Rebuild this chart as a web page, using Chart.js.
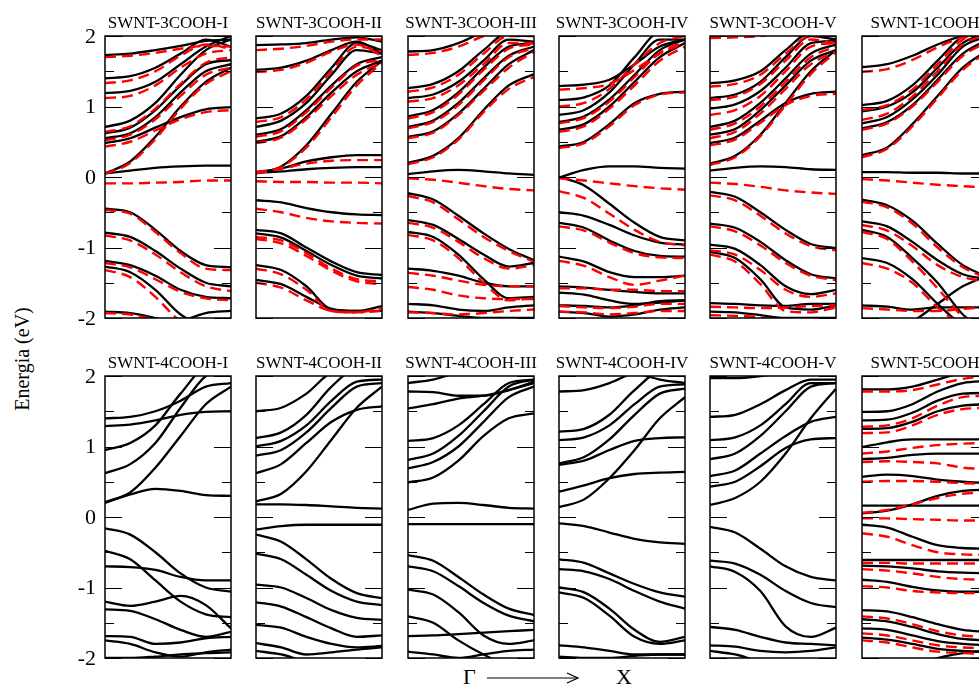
<!DOCTYPE html>
<html>
<head>
<meta charset="utf-8">
<script src="https://cdn.jsdelivr.net/npm/chart.js@4.4.1/dist/chart.umd.min.js"></script>
<style>
  html, body { margin: 0; padding: 0; background: #fff; width: 979px; height: 688px; overflow: hidden; }
  body { position: relative; font-family: "Liberation Serif", "DejaVu Serif", serif; }
  canvas { position: absolute; }
  #ylabel { position: absolute; left: 22px; top: 359px; font-size: 20px; line-height: 22px; white-space: nowrap;
            transform: translate(-50%, -50%) rotate(-90deg); }
  .klab { position: absolute; top: 665px; font-size: 22px; line-height: 24px; white-space: nowrap; }
  #karrow { position: absolute; left: 487px; top: 672px; }
</style>
</head>
<body>
<div id="ylabel">Energia (eV)</div>
<div class="klab" style="left:463px">Γ</div>
<svg id="karrow" width="93" height="12"><line x1="0" y1="6" x2="91" y2="6" stroke="#000" stroke-width="1.2"/><polyline points="80,1 91,6 80,11" fill="none" stroke="#000" stroke-width="1.2"/></svg>
<div class="klab" style="left:616px">X</div>
<div id="panels"></div>
<script>
// k path Gamma -> X, sampled at these points
const kPoints = [0, 0.2, 0.4, 0.6, 0.8, 1];
const energyTicks = [-2, -1, 0, 1, 2];
const minorTicks = [-1.5, -0.5, 0.5, 1.5];
const titles = ["SWNT-3COOH-I", "SWNT-3COOH-II", "SWNT-3COOH-III", "SWNT-3COOH-IV", "SWNT-3COOH-V", "SWNT-1COOH",
                "SWNT-4COOH-I", "SWNT-4COOH-II", "SWNT-4COOH-III", "SWNT-4COOH-IV", "SWNT-4COOH-V", "SWNT-5COOH"];

// band energies (eV) at kPoints, solid black and dashed red
const black3I = [
  [0.05, 0.09, 0.13, 0.15, 0.16, 0.16], [0.05, 0.22, 0.57, 1.0, 1.35, 1.55], [0.48, 0.55, 0.7, 0.85, 0.96, 0.99],
  [0.55, 0.62, 0.85, 1.2, 1.5, 1.6], [0.62, 0.7, 0.95, 1.3, 1.6, 1.66], [0.71, 0.8, 1.05, 1.45, 1.8, 1.95],
  [1.19, 1.22, 1.35, 1.6, 1.85, 2.0], [1.40, 1.43, 1.55, 1.75, 1.95, 1.85], [1.73, 1.75, 1.8, 1.86, 1.93, 1.95],
  [-0.45, -0.5, -0.75, -1.05, -1.25, -1.28], [-0.79, -0.85, -1.05, -1.3, -1.5, -1.55], [-1.19, -1.25, -1.4, -1.6, -1.7, -1.72],
  [-1.27, -1.35, -1.6, -1.95, -2.1, -2.1], [-1.91, -1.93, -2.0, -2.1, -2.1, -2.1], [-2.2, -2.2, -2.15, -2.05, -1.93, -1.9]
];
const red3I = [
  [-0.09, -0.09, -0.08, -0.07, -0.05, -0.05], [0.04, 0.2, 0.54, 0.97, 1.32, 1.5], [0.43, 0.5, 0.66, 0.82, 0.92, 0.95],
  [0.52, 0.6, 0.82, 1.15, 1.45, 1.55], [0.64, 0.72, 0.97, 1.32, 1.62, 1.7], [1.12, 1.15, 1.3, 1.55, 1.75, 1.8],
  [1.33, 1.37, 1.5, 1.72, 1.88, 1.82], [1.70, 1.72, 1.76, 1.82, 1.86, 1.85],
  [-0.47, -0.52, -0.78, -1.08, -1.3, -1.32], [-0.83, -0.9, -1.1, -1.35, -1.55, -1.62], [-1.22, -1.28, -1.45, -1.63, -1.72, -1.75],
  [-1.32, -1.42, -1.7, -2.05, -2.2, -2.2], [-1.93, -1.95, -2.02, -2.1, -2.1, -2.1]
];
const black3II = [
  [0.07, 0.12, 0.22, 0.28, 0.31, 0.31], [0.06, 0.08, 0.11, 0.13, 0.14, 0.14], [0.05, 0.15, 0.45, 0.9, 1.35, 1.65],
  [0.50, 0.58, 0.85, 1.2, 1.5, 1.65], [0.6, 0.68, 0.95, 1.3, 1.6, 1.7], [0.71, 0.8, 1.05, 1.45, 1.8, 1.75],
  [0.83, 0.9, 1.15, 1.55, 1.9, 1.8], [1.52, 1.55, 1.65, 1.8, 1.92, 1.75], [1.87, 1.88, 1.9, 1.95, 1.98, 1.92],
  [-0.33, -0.36, -0.44, -0.5, -0.53, -0.54], [-0.75, -0.8, -1.0, -1.2, -1.35, -1.39], [-0.8, -0.86, -1.05, -1.25, -1.4, -1.44],
  [-1.25, -1.32, -1.55, -1.88, -1.9, -1.83], [-1.46, -1.52, -1.7, -1.87, -1.9, -1.9]
];
const red3II = [
  [-0.06, -0.07, -0.07, -0.08, -0.08, -0.09], [0.07, 0.12, 0.19, 0.23, 0.24, 0.24], [0.05, 0.14, 0.42, 0.85, 1.3, 1.62],
  [0.48, 0.56, 0.82, 1.15, 1.45, 1.62], [0.57, 0.65, 0.92, 1.27, 1.58, 1.66], [0.78, 0.85, 1.1, 1.5, 1.85, 1.78],
  [1.49, 1.52, 1.62, 1.78, 1.88, 1.72], [1.8, 1.82, 1.86, 1.92, 1.95, 1.95],
  [-0.45, -0.5, -0.58, -0.63, -0.65, -0.66], [-0.85, -0.9, -1.08, -1.3, -1.45, -1.48], [-0.88, -0.94, -1.12, -1.33, -1.48, -1.52],
  [-1.3, -1.38, -1.6, -1.9, -1.92, -1.86], [-1.5, -1.57, -1.75, -1.9, -1.92, -1.9]
];
const black3III = [
  [0.04, 0.08, 0.1, 0.08, 0.05, 0.03], [0.2, 0.3, 0.55, 0.95, 1.3, 1.46], [0.57, 0.65, 0.9, 1.25, 1.6, 1.8],
  [0.71, 0.8, 1.05, 1.4, 1.72, 1.85], [0.86, 0.95, 1.2, 1.55, 1.85, 1.9], [1.12, 1.17, 1.35, 1.65, 1.95, 1.92],
  [1.26, 1.32, 1.5, 1.8, 2.05, 2.05], [1.78, 1.8, 1.9, 2.05, 2.1, 2.1],
  [-0.23, -0.32, -0.55, -0.8, -1.02, -1.18], [-0.61, -0.68, -0.88, -1.1, -1.27, -1.22], [-0.78, -0.85, -1.1, -1.45, -1.72, -1.7],
  [-1.3, -1.33, -1.4, -1.5, -1.55, -1.55], [-1.8, -1.82, -1.88, -1.9, -1.85, -1.82], [-1.91, -1.93, -1.97, -2.0, -2.0, -2.0]
];
const red3III = [
  [-0.02, -0.04, -0.08, -0.13, -0.17, -0.19], [0.18, 0.28, 0.53, 0.92, 1.25, 1.42], [0.55, 0.63, 0.88, 1.22, 1.55, 1.78],
  [0.69, 0.78, 1.02, 1.37, 1.7, 1.83], [0.83, 0.92, 1.17, 1.52, 1.82, 1.88], [1.07, 1.12, 1.3, 1.6, 1.9, 1.9],
  [1.21, 1.27, 1.45, 1.75, 2.0, 2.0], [1.73, 1.76, 1.85, 2.0, 2.1, 2.1],
  [-0.27, -0.36, -0.6, -0.85, -1.05, -1.2], [-0.65, -0.72, -0.92, -1.15, -1.3, -1.25], [-0.82, -0.9, -1.15, -1.5, -1.75, -1.72],
  [-1.36, -1.4, -1.47, -1.53, -1.55, -1.55], [-1.56, -1.6, -1.68, -1.72, -1.73, -1.73], [-1.92, -1.93, -1.95, -1.93, -1.9, -1.88]
];
const black3IV = [
  [-0.01, 0.1, 0.15, 0.15, 0.13, 0.12], [0.43, 0.5, 0.75, 1.05, 1.18, 1.21], [0.67, 0.75, 1.0, 1.35, 1.7, 1.9],
  [0.78, 0.86, 1.1, 1.45, 1.8, 1.95], [0.88, 0.95, 1.2, 1.6, 1.95, 1.95], [1.09, 1.13, 1.3, 1.7, 2.05, 2.05],
  [1.29, 1.31, 1.38, 1.6, 1.85, 1.95],
  [0, -0.12, -0.38, -0.65, -0.85, -0.9], [-0.5, -0.55, -0.68, -0.83, -0.93, -0.96], [-0.65, -0.72, -0.9, -1.05, -1.12, -1.13],
  [-1.13, -1.2, -1.35, -1.42, -1.42, -1.4], [-1.55, -1.57, -1.6, -1.63, -1.65, -1.65], [-1.64, -1.67, -1.75, -1.8, -1.78, -1.75],
  [-1.82, -1.83, -1.85, -1.82, -1.76, -1.75], [-1.91, -1.93, -1.98, -1.95, -1.88, -1.85]
];
const red3IV = [
  [-0.02, -0.05, -0.09, -0.13, -0.16, -0.18], [0.41, 0.48, 0.72, 1.02, 1.17, 1.2], [0.64, 0.72, 0.97, 1.3, 1.65, 1.85],
  [0.76, 0.84, 1.07, 1.42, 1.76, 1.92], [1.0, 1.05, 1.25, 1.6, 1.9, 2.0], [1.24, 1.26, 1.32, 1.52, 1.75, 1.9],
  [-0.2, -0.3, -0.52, -0.75, -0.92, -0.97], [-0.7, -0.76, -0.93, -1.08, -1.14, -1.15], [-1.19, -1.26, -1.42, -1.53, -1.47, -1.4],
  [-1.58, -1.58, -1.6, -1.6, -1.62, -1.62], [-1.83, -1.85, -1.86, -1.84, -1.8, -1.8], [-1.91, -1.92, -1.95, -1.93, -1.9, -1.9]
];
const black3V = [
  [0.09, 0.13, 0.15, 0.14, 0.11, 0.1], [0.19, 0.3, 0.6, 1.05, 1.5, 1.8], [0.48, 0.56, 0.8, 1.05, 1.18, 1.21],
  [0.6, 0.68, 0.95, 1.3, 1.65, 1.8], [0.71, 0.8, 1.05, 1.4, 1.75, 1.88], [0.97, 1.03, 1.22, 1.55, 1.9, 1.93],
  [1.12, 1.17, 1.35, 1.7, 2.0, 1.95], [1.33, 1.37, 1.5, 1.8, 2.05, 2.05],
  [-0.21, -0.28, -0.5, -0.75, -0.95, -1.01], [-0.66, -0.72, -0.92, -1.18, -1.38, -1.44], [-0.96, -1.02, -1.25, -1.55, -1.66, -1.6],
  [-1.06, -1.15, -1.45, -1.85, -1.88, -1.82], [-1.79, -1.8, -1.82, -1.83, -1.8, -1.8], [-1.91, -1.92, -1.96, -2.0, -2.0, -2.0]
];
const red3V = [
  [-0.08, -0.1, -0.14, -0.19, -0.22, -0.24], [0.17, 0.28, 0.58, 1.02, 1.46, 1.77], [0.45, 0.53, 0.77, 1.02, 1.15, 1.18],
  [0.55, 0.64, 0.9, 1.25, 1.6, 1.78], [0.67, 0.76, 1.0, 1.35, 1.7, 1.85], [0.88, 0.95, 1.15, 1.5, 1.85, 1.9],
  [1.09, 1.14, 1.32, 1.65, 1.95, 1.9], [1.28, 1.32, 1.45, 1.75, 2.0, 2.0], [1.97, 1.98, 2.0, 2.05, 2.05, 2.05],
  [-0.26, -0.33, -0.55, -0.8, -0.98, -1.04], [-0.7, -0.77, -0.97, -1.22, -1.4, -1.46], [-1.04, -1.1, -1.32, -1.6, -1.7, -1.65],
  [-1.1, -1.2, -1.52, -1.9, -1.92, -1.85], [-1.84, -1.85, -1.86, -1.85, -1.83, -1.82], [-1.96, -1.97, -1.99, -2.05, -2.05, -2.05]
];
const black1 = [
  [0.07, 0.07, 0.06, 0.06, 0.05, 0.05], [0.31, 0.42, 0.75, 1.15, 1.55, 1.8], [0.69, 0.78, 1.02, 1.38, 1.75, 1.95],
  [0.76, 0.85, 1.1, 1.45, 1.85, 2.0], [0.93, 1.0, 1.2, 1.55, 1.9, 2.05], [1.02, 1.08, 1.3, 1.65, 2.0, 2.1],
  [1.56, 1.6, 1.72, 1.88, 2.0, 2.05],
  [-0.32, -0.4, -0.62, -0.95, -1.25, -1.42], [-0.63, -0.7, -0.92, -1.18, -1.38, -1.45], [-0.75, -0.85, -1.15, -1.5, -1.95, -2.2],
  [-2.3, -2.2, -2.05, -1.8, -1.55, -1.4], [-1.15, -1.22, -1.45, -1.8, -2.1, -2.2], [-1.82, -1.84, -1.88, -1.85, -1.85, -1.85]
];
const red1 = [
  [-0.03, -0.05, -0.08, -0.11, -0.13, -0.15], [0.28, 0.4, 0.72, 1.12, 1.52, 1.78], [0.67, 0.76, 1.0, 1.35, 1.72, 1.92],
  [0.81, 0.9, 1.14, 1.5, 1.88, 2.02], [0.95, 1.02, 1.24, 1.6, 1.95, 2.08], [1.49, 1.53, 1.66, 1.84, 1.98, 2.03],
  [-0.35, -0.43, -0.66, -1.0, -1.28, -1.44], [-0.68, -0.76, -0.98, -1.25, -1.42, -1.48], [-0.78, -0.88, -1.2, -1.58, -1.98, -2.2],
  [-1.22, -1.3, -1.5, -1.85, -2.1, -2.2], [-1.86, -1.88, -1.9, -1.9, -1.87, -1.85]
];
const black4I = [
  [0.2, 0.32, 0.4, 0.37, 0.31, 0.3], [0.21, 0.35, 0.7, 1.15, 1.6, 1.85], [0.62, 0.75, 1.05, 1.55, 2.0, 2.1],
  [0.95, 1.05, 1.3, 1.75, 2.1, 2.1], [1.29, 1.31, 1.37, 1.45, 1.49, 1.5], [1.4, 1.42, 1.5, 1.65, 1.85, 1.9],
  [-0.16, -0.25, -0.5, -0.8, -1.0, -1.06], [-0.7, -0.71, -0.75, -0.85, -0.9, -0.9], [-0.48, -0.6, -0.9, -1.2, -1.38, -1.42],
  [-1.2, -1.26, -1.2, -1.12, -1.25, -1.58], [-1.31, -1.33, -1.45, -1.6, -1.7, -1.63], [-1.69, -1.7, -1.8, -1.78, -1.72, -1.7],
  [-1.75, -1.8, -1.92, -1.98, -1.92, -1.88], [-2.0, -2.0, -1.98, -1.95, -1.93, -1.92]
];
const black4II = [
  [0.18, 0.18, 0.17, 0.15, 0.13, 0.12], [0.22, 0.33, 0.65, 1.1, 1.55, 1.85], [0.62, 0.75, 1.05, 1.35, 1.52, 1.57],
  [0.87, 0.95, 1.2, 1.55, 1.85, 1.9], [1.0, 1.08, 1.3, 1.65, 1.92, 1.95], [1.12, 1.2, 1.45, 1.85, 2.1, 2.0],
  [1.5, 1.55, 1.75, 2.05, 2.1, 2.1],
  [-0.18, -0.13, -0.11, -0.11, -0.11, -0.11], [-0.25, -0.35, -0.6, -0.88, -1.08, -1.15], [-0.52, -0.6, -0.82, -1.05, -1.2, -1.25],
  [-0.96, -1.0, -1.15, -1.32, -1.43, -1.46], [-1.21, -1.27, -1.42, -1.58, -1.7, -1.68], [-1.53, -1.57, -1.7, -1.8, -1.85, -1.83],
  [-1.79, -1.85, -1.95, -1.92, -1.88, -1.85], [-1.9, -1.95, -2.05, -2.1, -2.1, -2.1]
];
const black4III = [
  [0.1, 0.19, 0.2, 0.17, 0.13, 0.12], [0.49, 0.56, 0.8, 1.15, 1.4, 1.47], [0.69, 0.78, 1.0, 1.35, 1.7, 1.85],
  [0.81, 0.9, 1.15, 1.5, 1.85, 1.95], [1.08, 1.12, 1.3, 1.6, 1.9, 1.95], [1.54, 1.6, 1.68, 1.72, 1.8, 1.9],
  [1.78, 1.77, 1.72, 1.72, 1.8, 1.92], [1.9, 1.95, 2.05, 2.1, 2.1, 2.1],
  [-0.1, -0.1, -0.1, -0.1, -0.1, -0.1], [-0.54, -0.62, -0.85, -1.1, -1.3, -1.39], [-0.7, -0.77, -0.98, -1.22, -1.4, -1.48],
  [-1.03, -1.1, -1.35, -1.68, -1.8, -1.75], [-1.69, -1.68, -1.66, -1.64, -1.62, -1.6], [-1.41, -1.5, -1.75, -1.95, -2.1, -2.1],
  [-1.91, -1.95, -2.0, -1.95, -1.9, -1.88]
];
const black4IV = [
  [0.14, 0.25, 0.55, 0.95, 1.4, 1.7], [0.36, 0.45, 0.55, 0.61, 0.63, 0.64], [0.74, 0.8, 0.95, 1.08, 1.12, 1.13],
  [0.76, 0.85, 1.1, 1.45, 1.75, 1.82], [1.09, 1.13, 1.3, 1.6, 1.85, 1.88], [1.21, 1.25, 1.45, 1.8, 2.05, 2.05],
  [1.78, 1.8, 1.9, 2.05, 2.1, 2.1], [2.2, 2.2, 2.15, 2.05, 1.95, 1.9],
  [-0.09, -0.13, -0.22, -0.31, -0.36, -0.38], [-0.6, -0.65, -0.8, -0.95, -1.07, -1.13], [-0.74, -0.77, -0.88, -1.05, -1.2, -1.3],
  [-1.0, -1.07, -1.3, -1.6, -1.77, -1.7], [-1.07, -1.15, -1.4, -1.7, -1.8, -1.75], [-1.82, -1.85, -1.9, -1.95, -1.95, -1.95],
  [-1.98, -2.0, -2.0, -1.97, -1.95, -1.95]
];
const black4V = [
  [0.17, 0.27, 0.5, 0.9, 1.4, 1.82], [0.43, 0.5, 0.72, 0.98, 1.1, 1.12], [0.58, 0.66, 0.9, 1.15, 1.35, 1.42],
  [0.82, 0.9, 1.15, 1.5, 1.85, 1.9], [1.09, 1.13, 1.3, 1.6, 1.9, 1.9], [1.42, 1.45, 1.6, 1.8, 1.95, 1.95],
  [1.97, 1.97, 2.0, 2.05, 2.1, 2.1],
  [-0.14, -0.22, -0.45, -0.7, -0.85, -0.9], [-0.62, -0.66, -0.82, -1.05, -1.22, -1.28], [-0.7, -0.78, -1.05, -1.55, -1.7, -1.57],
  [-1.56, -1.6, -1.7, -1.78, -1.8, -1.82], [-1.82, -1.84, -1.9, -1.92, -1.9, -1.85], [-1.9, -1.95, -2.05, -2.1, -2.1, -2.1]
];
const black5 = [
  [1.81, 1.81, 1.85, 1.95, 2.05, 2.1], [1.49, 1.5, 1.6, 1.78, 1.9, 1.93], [1.37, 1.38, 1.48, 1.65, 1.75, 1.76],
  [1.25, 1.26, 1.35, 1.5, 1.58, 1.6], [0.99, 1.06, 1.1, 1.1, 1.1, 1.1], [0.82, 0.84, 0.88, 0.9, 0.9, 0.9],
  [0.57, 0.6, 0.58, 0.53, 0.5, 0.48], [0.16, 0.16, 0.16, 0.16, 0.16, 0.16], [0.05, 0.09, 0.18, 0.3, 0.37, 0.39],
  [-0.11, -0.15, -0.28, -0.4, -0.44, -0.45], [-0.61, -0.61, -0.61, -0.61, -0.61, -0.61], [-0.69, -0.7, -0.73, -0.77, -0.79, -0.8],
  [-0.89, -0.92, -0.99, -1.04, -1.06, -1.06], [-1.32, -1.34, -1.42, -1.52, -1.6, -1.63], [-1.45, -1.48, -1.56, -1.66, -1.73, -1.75],
  [-1.58, -1.6, -1.68, -1.76, -1.8, -1.82], [-1.71, -1.74, -1.8, -1.87, -1.9, -1.91], [-2.2, -2.2, -2.1, -2.0, -1.93, -1.9]
];
const red5 = [
  [1.78, 1.78, 1.8, 1.88, 1.96, 2.0], [1.28, 1.3, 1.4, 1.58, 1.7, 1.72], [1.19, 1.2, 1.3, 1.45, 1.53, 1.55],
  [0.9, 0.93, 0.98, 1.02, 1.04, 1.05], [0.78, 0.79, 0.78, 0.76, 0.7, 0.68], [0.5, 0.51, 0.51, 0.5, 0.48, 0.47],
  [0.06, 0.1, 0.18, 0.27, 0.33, 0.35], [-0.02, -0.02, -0.03, -0.04, -0.05, -0.05],
  [-0.23, -0.28, -0.4, -0.5, -0.53, -0.54], [-0.65, -0.65, -0.66, -0.66, -0.66, -0.66], [-0.74, -0.76, -0.8, -0.85, -0.88, -0.89],
  [-0.98, -1.0, -1.05, -1.07, -1.08, -1.08], [-1.41, -1.44, -1.52, -1.62, -1.68, -1.7], [-1.65, -1.68, -1.75, -1.82, -1.85, -1.86],
  [-1.75, -1.78, -1.85, -1.91, -1.93, -1.94]
];

const panelBands = [
  [black3I, red3I], [black3II, red3II], [black3III, red3III], [black3IV, red3IV], [black3V, red3V], [black1, red1],
  [black4I, []], [black4II, []], [black4III, []], [black4IV, []], [black4V, []], [black5, red5]
];

const SERIF = '"Liberation Serif", "DejaVu Serif", serif';

// frame, inward ticks, titles and energy labels
const framePlugin = {
  id: 'frame',
  afterDatasetsDraw(chart) {
    const { ctx, chartArea: a, scales: { y } } = chart;
    ctx.save();
    ctx.strokeStyle = '#000';
    ctx.lineWidth = 1.5;
    ctx.strokeRect(a.left, a.top, a.right - a.left, a.bottom - a.top);
    ctx.lineWidth = 1.2;
    const tick = (v, len) => {
      const py = Math.round(y.getPixelForValue(v)) + 0.5;
      ctx.beginPath();
      ctx.moveTo(a.left, py); ctx.lineTo(a.left + len, py);
      ctx.moveTo(a.right - len, py); ctx.lineTo(a.right, py);
      ctx.stroke();
    };
    energyTicks.forEach(v => tick(v, 17));
    minorTicks.forEach(v => tick(v, 9));
    ctx.restore();
  },
  afterDraw(chart, args, opts) {
    const { ctx, chartArea: a, scales: { y } } = chart;
    ctx.save();
    ctx.fillStyle = '#000';
    ctx.font = '17px ' + SERIF;
    ctx.textAlign = 'center';
    ctx.textBaseline = 'alphabetic';
    ctx.fillText(opts.title, (a.left + a.right) / 2, a.top - 8);
    if (opts.labels) {
      ctx.font = '22px ' + SERIF;
      ctx.textAlign = 'right';
      ctx.textBaseline = 'middle';
      energyTicks.forEach(v => ctx.fillText(String(v), a.left - 9, y.getPixelForValue(v) + 1));
    }
    ctx.restore();
  }
};

const App = {
  layout: { left0: 105, dx: 151.3, tops: [36, 376], w: 126, h: 282, padL: 45, padT: 30, padR: 4, padB: 16 },
  init() {
    titles.forEach((t, i) => App.methods.drawPanel(i));
  },
  methods: {
    toPoints(band) {
      return kPoints.map((k, j) => ({ x: k, y: band[j] }));
    },
    makeDataset(band, dashed) {
      return {
        data: App.methods.toPoints(band),
        borderColor: dashed ? '#ff0000' : '#000000',
        borderWidth: dashed ? 2.4 : 2.3,
        borderDash: dashed ? [11, 6] : [],
        pointRadius: 0,
        cubicInterpolationMode: 'monotone',
        fill: false
      };
    },
    drawPanel(i) {
      const L = App.layout;
      const col = i % 6, row = Math.floor(i / 6);
      const canvas = document.createElement('canvas');
      const cw = L.w + L.padL + L.padR, ch = L.h + L.padT + L.padB;
      canvas.width = cw; canvas.height = ch;
      canvas.style.width = cw + 'px'; canvas.style.height = ch + 'px';
      canvas.style.left = (Math.round(L.left0 + col * L.dx) - L.padL) + 'px';
      canvas.style.top = (L.tops[row] - L.padT) + 'px';
      document.getElementById('panels').appendChild(canvas);

      const [black, red] = panelBands[i];
      // red drawn on top: lower dataset index is drawn last
      const datasets = red.map(b => App.methods.makeDataset(b, true))
        .concat(black.map(b => App.methods.makeDataset(b, false)));

      new Chart(canvas.getContext('2d'), {
        type: 'line',
        data: { datasets: datasets },
        options: {
          responsive: false,
          animation: false,
          devicePixelRatio: 1,
          layout: { padding: { left: L.padL, top: L.padT, right: L.padR, bottom: L.padB } },
          scales: {
            x: { type: 'linear', min: 0, max: 1, display: false },
            y: { type: 'linear', min: -2, max: 2, display: false }
          },
          plugins: {
            legend: { display: false },
            tooltip: { enabled: false },
            frame: { title: titles[i], labels: col === 0 }
          }
        },
        plugins: [framePlugin]
      });
    }
  }
};
App.init();
</script>
</body>
</html>
